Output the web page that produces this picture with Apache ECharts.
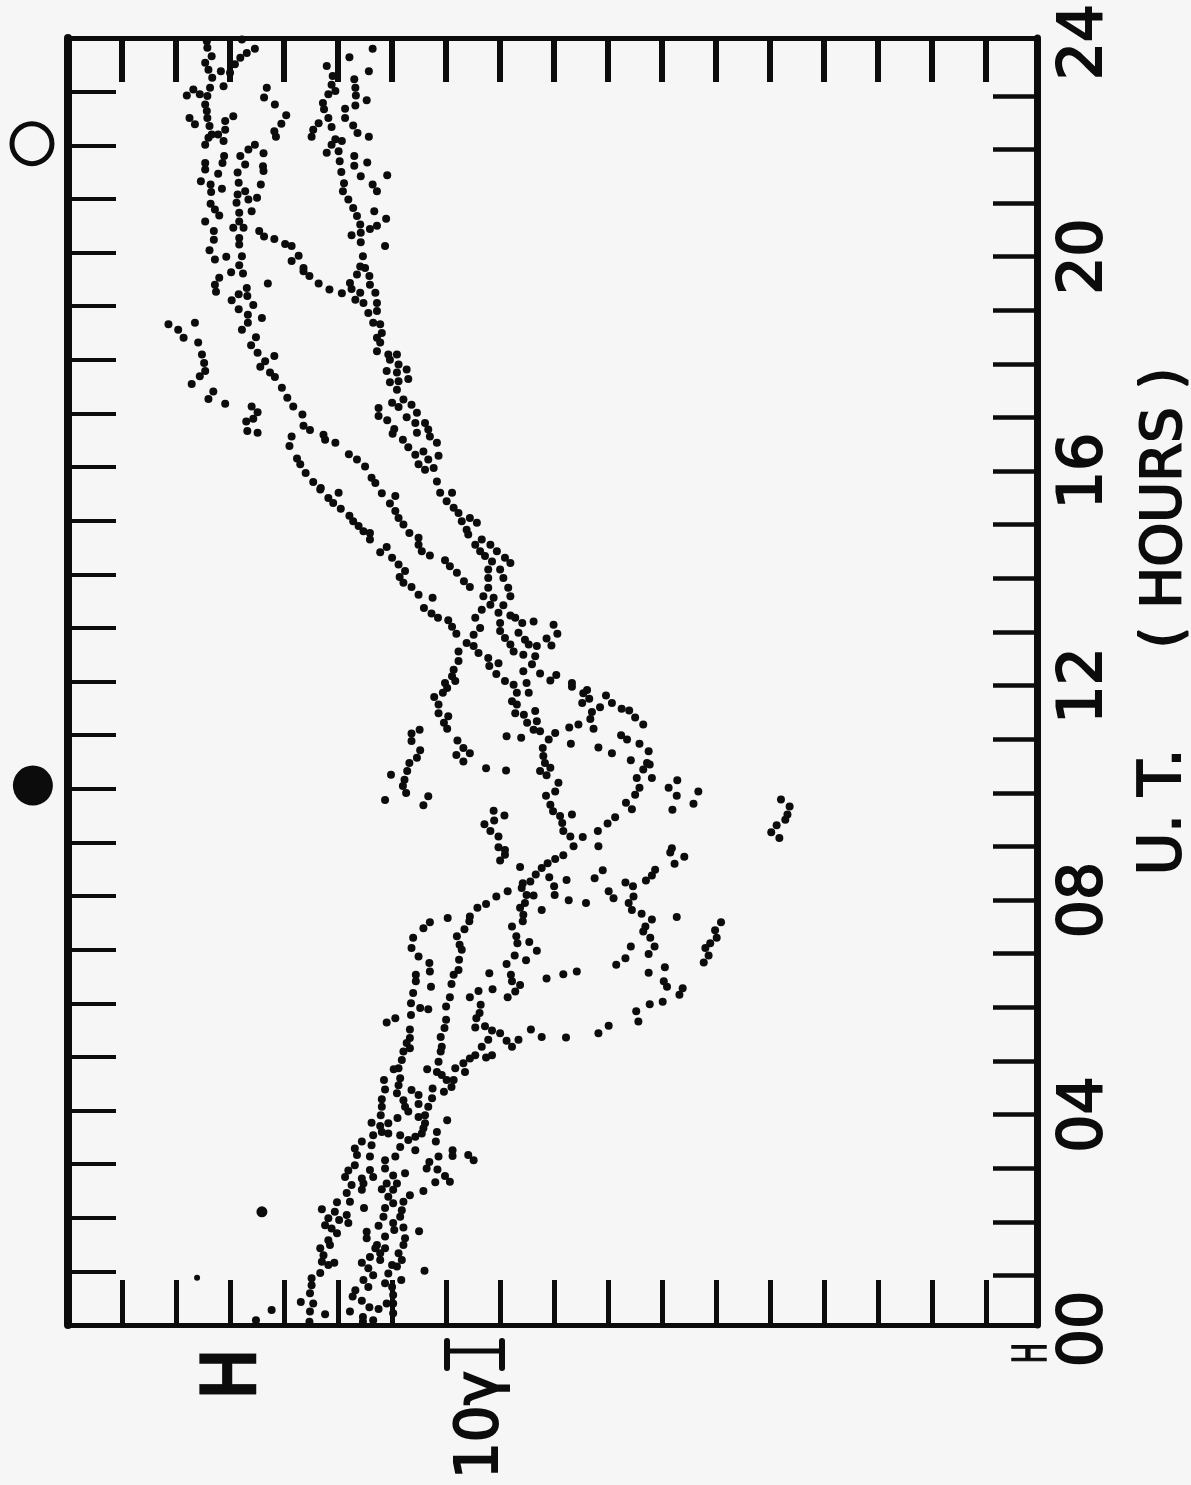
<!DOCTYPE html>
<html><head><meta charset="utf-8">
<style>html,body{margin:0;padding:0;background:#f6f6f6}#c{width:1191px;height:1485px}</style>
<script src="https://cdn.jsdelivr.net/npm/echarts@6/dist/echarts.min.js"></script>
</head><body><div id="c"></div>
<script>
// every point: [H in gamma above the chart's edge, universal time in hours]
const hours20to24 = [[25.7,23.94],[25.8,23.82],[26.6,23.66],[25.4,23.54],[26.0,23.41],[26.7,23.26],[26.3,23.07],[25.8,22.92],[24.4,22.95],[23.2,23.04],[22.0,22.93],[25.4,22.76],[25.7,22.64],[25.8,22.51],[26.2,22.36],[26.6,22.20],[25.4,22.01],[26.0,22.14],[27.8,22.20],[28.8,22.08],[29.1,22.29],[29.1,22.45],[30.6,22.54],[22.5,22.51],[23.5,22.39],[25.4,21.67],[25.4,21.55],[28.9,21.80],[28.6,21.67],[27.8,21.47],[24.6,21.33],[26.4,21.27],[26.5,21.13],[28.5,21.19],[26.4,20.91],[27.2,20.80],[28.0,20.69],[25.4,20.58],[27.0,20.40],[27.0,20.24],[26.2,20.04],[27.2,19.87],[29.3,19.92],
[28.3,23.38],[30.0,23.35],[30.9,23.51],[31.9,23.63],[33.1,23.72],[34.6,23.80],[32.2,23.97],[28.8,23.10],[36.8,23.07],[36.3,22.89],[38.3,22.76],[40.4,22.56],[39.5,22.40],[38.2,22.26],[38.5,22.16],
[34.6,22.01],[33.4,21.92],[31.9,21.80],[32.8,21.64],[36.2,21.85],[36.1,21.61],[36.2,21.52],[31.4,21.49],[31.6,21.30],[35.7,21.27],[32.8,21.14],[31.4,21.08],[31.2,20.93],[33.4,20.99],[35.0,21.02],[34.0,20.77],[31.7,20.74],[31.7,20.58],[30.6,20.46],[32.5,20.46],[31.7,20.27],[31.7,20.15],[32.2,19.93],[31.7,19.76],
[35.4,20.40],[36.3,20.30],[38.2,20.25],[40.2,20.16],[41.4,20.12],[42.7,19.94],[41.4,19.84],[43.6,19.71],
[47.9,23.48],[49.0,23.29],[48.8,23.13],[49.5,23.01],[48.2,22.95],[47.2,22.79],[47.4,22.67],[48.2,22.51],[48.8,22.34],[46.4,22.41],[45.4,22.29],[45.1,22.16],[49.5,22.11],[50.7,22.08],[48.8,22.01],[47.9,21.86],[50.1,21.89],[50.3,21.70],[50.6,21.50],[51.1,21.29],[50.9,21.14],[51.9,20.99],[52.8,20.83],[53.5,20.68],[54.1,20.52],[54.2,20.37],[52.5,20.32],[54.2,20.19],[54.6,19.93],[54.1,19.74],
[52.1,23.64],[56.4,23.80],[55.7,23.38],[53.0,23.23],[53.2,23.07],[53.3,22.93],[55.3,22.84],[53.2,22.74],[51.3,22.68],[51.3,22.51],[52.8,22.37],[53.6,22.23],[55.7,22.16],[53.0,21.80],[53.0,21.62],[55.4,21.68],[54.2,21.42],[59.1,21.44],[56.4,21.27],[57.2,21.14],[56.7,20.77],[58.9,20.63],[57.2,20.50],[55.9,20.44],[58.7,20.12]];
const hours16to20 = [[30.2,19.63],[32.4,19.61],[28.0,19.53],[27.2,19.40],[27.4,19.27],[33.1,19.34],[37.0,19.42],[31.6,19.22],[30.3,19.11],[33.2,19.19],[34.3,19.02],[31.6,18.94],[33.3,18.84],[35.9,18.78],[33.3,18.69],[32.2,18.56],[23.5,18.69],[18.6,18.66],[20.4,18.56],[21.4,18.41],[24.1,18.32],[24.8,18.10],[25.2,17.94],[25.4,17.79],[24.4,17.69],[22.9,17.55],[26.9,17.41],[26.0,17.27],[29.1,17.18],[34.8,18.42],[33.9,18.27],[35.1,18.13],[38.2,18.07],[36.5,17.97],[35.6,17.87],[37.4,17.76],[38.3,17.68],[39.6,17.48],[40.6,17.29],[41.7,17.13],[43.4,16.98],[43.6,16.77],[44.8,16.69],[34.0,17.13],[35.1,17.02],[34.3,16.90],[33.0,16.85],[33.2,16.67],[35.1,16.64],
[43.6,19.65],[44.7,19.56],[46.4,19.42],[48.4,19.31],[50.7,19.24],
[47.3,16.60],[47.6,16.51],[49.5,16.45],[52.0,16.24],[53.5,16.14],[55.0,16.01],[56.2,15.80],[56.9,15.70],
[41.4,16.57],[41.0,16.39],[42.4,16.16],[43.0,16.05],[44.0,15.89],[45.4,15.72],[46.8,15.61],
[55.0,19.71],[53.5,19.59],[55.8,19.56],[55.9,19.40],[52.2,19.43],[52.5,19.32],[54.1,19.25],[56.9,19.25],[53.2,19.12],[54.7,19.06],[57.2,19.06],[55.6,18.87],[57.2,18.91],[56.5,18.69],[57.8,18.66],[58.1,18.50],[57.2,18.41],[57.8,18.32],[57.2,18.16],[59.3,18.10],[60.9,18.10],[59.6,18.00],[61.2,17.91],[59.0,17.79],[62.7,17.82],[60.9,17.76],[63.0,17.64],[59.6,17.58],[61.2,17.60],[60.9,17.44],[60.0,17.20],[62.1,17.26],[61.2,17.12],[63.6,17.16],[64.6,17.01],[62.7,16.93],[64.3,16.82],[66.1,16.82],[66.7,16.70],[64.6,16.64],[67.0,16.57],[68.3,16.45],[65.8,16.29],[68.6,16.21],[66.7,16.14],[67.7,15.98],[66.1,15.95],[68.3,15.73],
[57.5,17.10],[57.5,16.95],[59.1,16.87],[60.4,16.71],[60.1,16.62],[62.0,16.51],[63.0,16.37],[64.3,16.23],[64.9,16.05]];
const hours12to16 = [[46.7,15.58],[50.1,15.52],[48.2,15.42],[49.1,15.33],[50.5,15.22],[52.1,15.09],[52.8,14.99],[53.8,14.90],[54.7,14.80],[55.9,14.77],[55.9,14.65],
[58.1,15.51],[60.6,15.46],[59.6,15.32],[60.6,15.18],[61.2,15.05],[62.1,14.93],[63.2,14.77],[64.9,14.68],[64.9,14.55],[65.5,14.43],[67.0,14.35],
[69.8,14.26],[70.7,14.15],[72.0,14.03],[73.3,13.87],[74.4,13.76],
[59.0,14.51],[57.8,14.41],[60.0,14.31],[61.2,14.18],[62.4,14.06],[61.4,13.95],[62.1,13.84],[63.6,13.76],[64.9,13.62],[67.5,13.56],[65.9,13.37],[67.3,13.27],[68.5,13.19],[70.4,13.14],[71.1,13.02],[71.9,12.89],
[68.9,15.52],[71.1,15.52],[70.1,15.36],[71.4,15.24],[72.3,15.14],[72.9,14.99],[74.4,15.05],[75.7,14.96],[73.8,14.83],[74.1,14.74],[76.6,14.65],[75.4,14.55],[78.2,14.55],[76.3,14.43],[79.4,14.43],[77.2,14.34],[78.5,14.24],[80.9,14.31],[81.9,14.21],[80.0,14.09],[77.8,14.09],[77.8,13.93],[80.6,13.93],[81.5,13.75],[81.9,13.59],[77.8,13.75],[76.9,13.59],[78.8,13.56],[78.2,13.43],[80.6,13.42],[76.6,13.34],[75.4,13.19],[76.3,13.00],[79.7,13.28],[81.9,13.23],[82.8,13.19],[80.0,13.09],[80.0,12.94],[80.9,12.81],[81.9,12.69],[82.5,12.56],
[86.2,13.12],[84.1,13.09],[89.9,13.06],[90.6,12.89],[83.4,12.91],[84.6,12.78],[88.6,12.80],[89.5,12.67],[86.8,12.66],[85.3,12.69],[86.5,12.47],[84.3,12.50],
[75.1,12.87],[73.8,12.72],[75.1,12.66],[76.0,12.53],[72.3,12.56],[77.8,12.44]];
const hours09to12 = [[72.3,12.38],[71.4,12.22],[71.1,12.10],[71.7,12.01],[69.8,11.97],[70.2,11.88],[69.4,11.79],[67.8,11.71],[68.6,11.57],[68.6,11.41],[70.4,11.35],[69.6,11.23],[70.2,11.12],
[78.0,12.29],[79.7,12.34],[79.3,12.14],[80.9,12.01],[82.5,11.94],[84.3,12.19],[85.9,12.32],[84.9,11.97],[85.3,11.79],[83.1,11.79],[82.2,11.63],[83.1,11.57],[82.8,11.41],[84.4,11.38],[85.0,11.23],[86.5,11.45],[86.8,11.26],[86.2,11.10],[87.4,11.07],
[87.4,12.15],[90.4,12.12],[89.3,12.02],[93.3,11.97],[93.3,11.90],[96.1,11.84],[95.4,11.78],[96.5,11.68],[95.2,11.60],[99.6,11.74],[100.7,11.60],[98.5,11.52],[97.0,11.43],[96.7,11.30],[102.5,11.49],[103.9,11.46],[105.0,11.33],[106.5,11.20],[97.3,11.12],[94.5,11.20],[92.8,11.14],[90.2,11.04],[89.0,10.92],[87.9,10.76],[88.0,10.61],[88.3,10.48],[89.3,10.39],[87.4,10.33],[88.6,10.25],[90.8,10.11],[90.2,9.95],[88.5,9.87],[89.3,9.70],[89.8,9.58],[91.1,9.49],[93.3,9.52],[91.5,9.36],[91.7,9.21],[93.0,9.11],[95.3,9.10],
[81.2,10.98],[83.9,10.95],[93.1,10.84],[98.2,10.77],[100.7,10.66],[102.4,11.00],[103.5,10.92],[105.8,10.84],[104.2,10.53],[107.5,10.70],[107.2,10.48],[106.5,10.36],[105.3,10.20],[107.7,10.45],[108.1,10.20],[105.8,10.02],[105.0,9.89],[112.8,10.16],[111.2,10.02],[112.7,9.87],[116.7,9.95],[115.8,9.72],[111.9,9.61],[103.3,9.74],[104.4,9.62],[101.3,9.47],[99.9,9.35],[98.1,9.21],
[65.1,11.10],[63.6,11.03],[63.6,10.89],[65.2,10.72],[64.6,10.58],[63.2,10.48],[62.8,10.33],[62.3,10.17],[62.0,10.05],[62.6,9.92],[59.8,10.26],[58.7,9.79],[66.7,9.86],[65.8,9.69],
[72.1,10.90],[73.2,10.76],[71.9,10.63],[74.4,10.66],[73.2,10.51],[77.4,10.38],[81.1,10.34],
[78.8,9.59],[80.8,9.50],[78.9,9.41],[77.1,9.34],[78.2,9.21],[79.7,9.11],
[132.0,9.80],[133.6,9.67],[133.2,9.52],[132.8,9.42],[131.2,9.32],[130.2,9.19],[131.7,9.08]];
const hours05to09 = [[79.7,8.91],[80.9,8.86],[80.9,8.77],[80.0,8.66],[83.7,8.54],[93.6,8.93],[91.7,8.76],[90.2,8.69],[88.8,8.61],[87.7,8.52],[86.6,8.40],[85.6,8.27],[84.2,8.24],[84.0,8.15],[98.2,8.93],[111.8,8.89],[111.5,8.81],[114.1,8.73],[112.3,8.60],[108.7,8.49],[108.1,8.38],[107.0,8.29],[99.0,8.48],[97.5,8.33],[92.3,8.30],[89.1,8.35],
[90.0,8.18],[90.1,8.02],[92.7,7.92],[95.9,7.87],[103.2,8.25],[104.6,8.18],[100.1,8.09],[101.0,7.96],[104.7,7.99],[103.8,7.87],[104.4,7.74],[106.2,7.67],[108.1,7.56],[106.9,7.43],[106.5,7.34],[107.8,7.22],[112.7,7.61],[120.9,7.51],[119.8,7.36],[120.1,7.22],[118.9,7.12],[118.0,7.03],[118.6,6.89],[117.7,6.76],[108.6,7.06],[107.5,6.92],[104.2,7.06],[103.2,6.84],[101.5,6.72],[110.5,6.67],[107.5,6.57],[110.3,6.41],[110.9,6.31],[113.8,6.28],[113.2,6.16],[110.1,6.03],[107.7,5.98],[105.2,5.85],[105.6,5.66],[100.1,5.58],[98.2,5.44],[92.2,5.36],[87.7,5.37],[85.7,5.51],
[86.2,8.01],[84.9,8.02],[84.6,7.87],[83.7,7.78],[84.3,7.65],[84.2,7.53],[87.7,7.74],[81.4,8.09],[79.3,7.99],[77.4,7.85],[75.8,7.78],[74.4,7.62],[74.3,7.53],[73.4,7.38],[70.3,7.59],[67.0,7.51],[65.8,7.40],[63.9,7.22],[63.6,7.03],[64.9,6.87],[66.9,6.75],[67.0,6.59],[67.2,6.31],[64.4,6.53],[64.4,6.41],[63.9,6.19],[63.5,6.00],[65.2,5.91],[66.7,5.89],[63.5,5.78],[60.6,5.72],
[72.0,7.25],[72.5,7.09],[72.9,7.00],[72.4,6.81],[72.3,6.62],[71.4,6.53],[71.0,6.36],[70.7,6.11],[70.0,5.94],[70.0,5.69],[69.7,5.54],[69.0,5.37],[69.2,5.19],
[82.2,7.43],[83.0,7.25],[83.2,7.12],[85.4,7.14],[86.8,6.98],[82.7,6.89],[84.8,6.80],[81.2,6.73],[78.0,6.56],[82.0,6.53],[82.2,6.41],[83.7,6.34],[82.8,6.22],[81.4,6.11],[88.6,6.46],[91.7,6.54],[94.2,6.59],[78.6,6.26],[76.0,6.23],[74.4,6.11],[76.4,5.97],[76.2,5.82],[75.6,5.72],[75.4,5.55],[77.2,5.57],[78.5,5.49],[80.0,5.44],[81.2,5.30],[83.4,5.32],[82.2,5.19],[77.8,5.32],[76.6,5.19],
[63.3,5.51],[63.3,5.35],[62.7,5.26],[63.3,5.16]];
const hours03to05 = [[59.0,5.64],[62.1,5.10],[61.8,4.94],[61.2,4.79],[60.3,4.77],[61.5,4.60],[61.2,4.47],[60.9,4.32],[62.1,4.19],[62.4,4.07],[63.0,3.98],[58.5,4.57],[58.7,4.39],[58.1,4.21],[58.1,4.07],[57.9,3.91],[61.0,3.86],[63.6,4.38],[64.9,4.29],[64.9,4.12],[64.9,3.88],[66.1,3.76],[65.8,3.67],[68.3,3.60],[65.5,3.57],[64.3,3.51],[61.5,3.54],[63.0,3.45],[61.5,3.32],[64.3,3.26],[68.1,3.42],[70.2,3.82],[56.2,3.77],[57.8,3.71],[59.3,3.76],[56.5,3.54],[58.1,3.60],[59.3,3.57],[56.2,3.35],[54.4,3.42],[53.1,3.29],[53.5,3.17],[55.9,3.14],[53.1,2.98],[60.6,3.14],[58.7,3.07],[58.7,2.92],[60.2,2.79],[62.4,2.83],[55.9,2.89],[51.9,2.88],[56.5,2.76],[54.4,2.73],[51.3,2.76],
[69.0,5.10],[68.6,4.91],[66.5,4.77],[68.3,4.72],[69.2,4.66],[70.1,4.57],[71.4,4.57],[71.0,4.44],[69.6,4.35],[67.5,4.41],[67.4,4.23],[66.7,4.07],[66.1,3.91],
[71.7,4.79],[73.2,4.88],[73.5,4.72],[74.4,4.97],[75.4,5.03],[77.4,4.99],[78.5,5.03],
[71.2,3.26],[71.2,3.15],[74.1,3.17],[75.1,3.07],[68.6,3.14],[66.9,3.04],[66.4,2.92],[68.4,2.90],[69.8,2.78]];
const hours00to03 = [[52.5,2.61],[51.6,2.46],[52.2,2.30],[54.7,2.64],[54.4,2.52],[54.8,2.18],[49.8,2.29],[47.0,2.16],[49.4,2.11],[48.2,1.99],[51.6,2.05],[50.2,1.96],[51.9,1.90],[47.6,1.86],[48.8,1.80],[49.8,1.71],
[48.2,1.58],[48.5,1.49],[46.7,1.43],[47.3,1.30],[47.0,1.18],[49.3,1.16],[48.2,1.12],[46.7,0.97],[45.1,0.87],[45.1,0.74],[44.8,0.59],[43.1,0.43],[45.4,0.40],[44.8,0.25],[47.6,0.20],[44.7,0.06],[37.7,0.28],[34.8,0.09],
[59.0,2.64],[58.1,2.53],[60.9,2.64],[60.2,2.52],[59.3,2.39],[60.2,2.27],[62.1,2.30],[61.8,2.14],[61.5,2.02],[58.7,2.18],[58.4,2.02],[57.5,1.85],[60.2,1.90],[60.4,1.77],[62.1,1.82],[65.0,1.75],[55.3,1.74],[55.3,1.62],[62.4,1.62],[62.1,1.49],[58.7,1.65],[57.2,1.49],[58.7,1.43],[57.8,1.34],[56.9,1.43],[61.2,1.34],[61.8,1.21],[55.9,1.27],[57.8,1.21],[54.4,1.16],[60.9,1.09],[60.0,1.12],[55.6,1.06],[56.5,0.93],[59.3,0.96],[66.0,1.01],[54.7,0.84],[55.6,0.71],[58.7,0.78],[61.7,0.84],[53.2,0.65],[52.7,0.53],[60.0,0.71],[60.2,0.56],[60.2,0.40],[54.4,0.45],[55.8,0.33],[57.5,0.30],[59.0,0.40],[52.2,0.25],[54.6,0.15],[56.5,0.09],[60.2,0.22],[54.6,0.06],
[63.3,2.42],[65.8,2.50],[68.0,2.66],[70.7,2.67]];
const strayLarge = [[35.9,2.11]];
const straySmall = [[23.9,0.88]];
const newMoon = [[-6.5,10.06]];
const fullMoon = [[-6.67,22.03]];
const hourTickLabels = {0:'00',4:'04',8:'08',12:'12',16:'16',20:'20',24:'24'};
const innerHourTicks = [1,2,3,4,5,6,7,8,9,10,11,12,13,14,15,16,17,18,19,20,21,22,23];
const hTicks = [10,20,30,40,50,60,70,80,90,100,110,120,130,140,150,160,170];
const hourMin = 0, hourMax = 24, hMin = 0, hMax = 179.4;

const INK = '#0c0c0c', PAPER = '#f6f6f6';
const dot = (name, data, size) => ({name, type:'scatter', data, symbol:'circle', symbolSize:size,
  itemStyle:{color:INK, opacity:1}, silent:true, animation:false, xAxisIndex:0, yAxisIndex:0});
const hAxis = (position, len, w, lineW, gridIndex, show) => ({type:'value', gridIndex:gridIndex||0, show:show!==false, position, min:hMin, max:hMax, interval:10,
  axisLine:{show:true, onZero:false, lineStyle:{color:INK, width:lineW}},
  axisTick:{show:true, inside:true, length:len, customValues:hTicks, lineStyle:{color:INK, width:w}},
  axisLabel:{show:false}, splitLine:{show:false}});
const tAxis = (position, gridIndex, lineW, tickLen, tickW, labels) => ({type:'value', gridIndex, position, min:hourMin, max:hourMax, interval:1,
  axisLine:{show:lineW>0, onZero:false, lineStyle:{color:INK, width:lineW||1}},
  axisTick:{show:tickLen>0, inside:true, length:tickLen, customValues:innerHourTicks, lineStyle:{color:INK, width:tickW}},
  axisLabel:labels ? {show:true, rotate:90, margin:18, fontFamily:'DejaVu Sans', fontSize:60, color:INK,
    textBorderColor:INK, textBorderWidth:2, formatter:v => hourTickLabels[v] || ''} : {show:false},
  splitLine:{show:false}});
const rotText = (text, x, y, font, lw, extra) => Object.assign({type:'text', x, y, rotation:Math.PI/2, silent:true,
  style:{text, fill:INK, font, textAlign:'center', textVerticalAlign:'middle', stroke:INK, lineWidth:lw}}, extra||{});
const seg = (x1,y1,x2,y2,w,c) => ({type:'line', silent:true, shape:{x1,y1,x2,y2}, style:{stroke:c||INK, lineWidth:w, lineCap:c?'butt':'round'}});

const chart = echarts.init(document.getElementById('c'), null, {renderer:'canvas'});
chart.setOption({
  backgroundColor:PAPER, animation:false,
  grid:[{left:68, right:154, top:38, bottom:160},{left:68, right:154, top:42, bottom:156}],
  xAxis:[hAxis('bottom',45,5,5,0), hAxis('top',44,6,5,0), hAxis('bottom',0,1,1,1,false)],
  yAxis:[tAxis('right',0,7,0,0,false), tAxis('left',0,8,48,4,false), tAxis('right',1,0,44,4.5,true)],
  series:[
    dot('00-03 UT',hours00to03,8), dot('03-05 UT',hours03to05,8), dot('05-09 UT',hours05to09,8),
    dot('09-12 UT',hours09to12,8), dot('12-16 UT',hours12to16,8), dot('16-20 UT',hours16to20,8),
    dot('20-24 UT',hours20to24,8), dot('stray large',strayLarge,11), dot('stray small',straySmall,6),
    Object.assign(dot('new moon',newMoon,40),{clip:false}),
    Object.assign(dot('full moon',fullMoon,40),{clip:false, itemStyle:{color:'transparent', opacity:1, borderColor:INK, borderWidth:5}})
  ],
  graphic:[
    seg(213,1325,226,1325,8,PAPER),
    rotText('U. T.', 1165, 812, '58px "DejaVu Sans"', 2),
    rotText('( HOURS )', 1165, 508, '56px "DejaVu Sans"', 2),
    rotText('H', 233, 1374, 'bold 82px "Liberation Sans"', 0.5, {scaleX:0.84}),
    rotText('10γ', 482, 1425, '58px "DejaVu Sans"', 2),
    rotText('H', 1034, 1353, '46px "DejaVu Sans"', 1.5, {scaleX:0.6}),
    seg(448,1351,502,1351,5), seg(447,1341,447,1368,6), seg(502,1341,502,1368,6)
  ]
});
</script></body></html>
